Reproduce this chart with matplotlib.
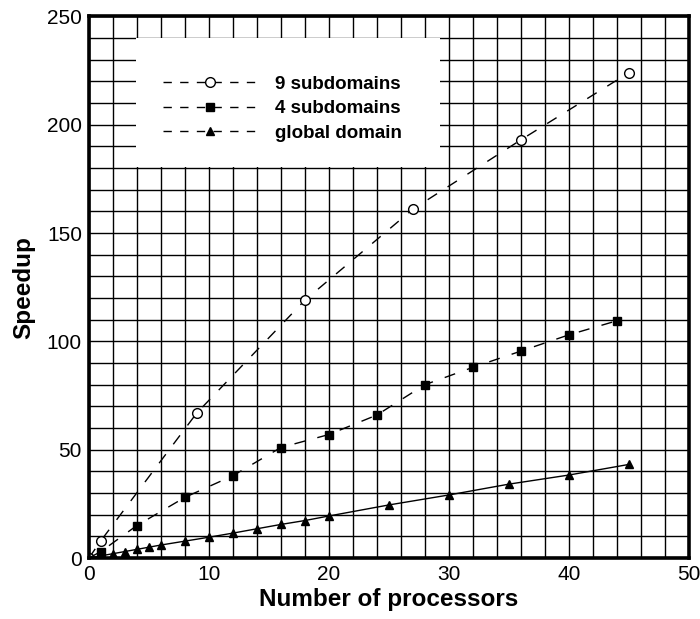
import matplotlib
matplotlib.use("Agg")
import matplotlib.pyplot as plt
from matplotlib.lines import Line2D
from matplotlib.patches import Rectangle

plt.rcParams['font.family'] = ['Liberation Sans', 'DejaVu Sans']

# Data
x9 = [0, 1, 9, 18, 27, 36, 45]
y9 = [0, 8, 67, 119, 161, 193, 224]

x4 = [0, 1, 4, 8, 12, 16, 20, 24, 28, 32, 36, 40, 44]
y4 = [0, 3, 15, 28, 38, 51, 57, 66, 80, 88, 95.5, 103, 109.5]

xg = [0, 1, 2, 3, 4, 5, 6, 8, 10, 12, 14, 16, 18, 20, 25, 30, 35, 40, 45]
yg = [0, 1, 2, 3, 4, 5, 6, 7.8, 9.6, 11.5, 13.5, 15.5, 17.3, 19.4, 24.5, 29.1, 34.1, 38.3, 43.2]

labels = ["9 subdomains", "4 subdomains", "global domain"]
xticks = [0, 10, 20, 30, 40, 50]
yticks = [0, 50, 100, 150, 200, 250]

fig = plt.figure(figsize=(7.0, 6.19), dpi=100)
ax = fig.add_axes([0.127, 0.0985, 0.857, 0.875])

ax.set_xlim(0, 50)
ax.set_ylim(0, 250)
ax.set_xticks(xticks)
ax.set_yticks(yticks)
ax.set_xticks(range(0, 51, 2), minor=True)
ax.set_yticks(range(0, 251, 10), minor=True)
ax.grid(True, which='both', color='black', linewidth=1.0, zorder=0)
ax.set_axisbelow(True)
ax.tick_params(which='both', length=0, labelsize=15, pad=5)
for s in ax.spines.values():
    s.set_linewidth(2.6)
    s.set_zorder(6)

# white legend box covering the grid
ax.add_patch(Rectangle((0.078, 0.7214), 0.507, 0.2396, transform=ax.transAxes,
                       facecolor='white', edgecolor='none', zorder=2))

dash = (8, 9)
ax.plot(x9, y9, color='black', linewidth=1.0, dashes=dash,
        marker='o', markersize=7, markerfacecolor='white', markeredgecolor='black', zorder=3)
ax.plot(x4, y4, color='black', linewidth=1.0, dashes=dash,
        marker='s', markersize=5.5, markevery=list(range(1, len(x4))),
        markerfacecolor='black', markeredgecolor='black', zorder=3)
ax.plot(xg, yg, color='black', linewidth=1.0, linestyle='-',
        marker='^', markersize=5.5, markevery=list(range(1, len(xg))),
        markerfacecolor='black', markeredgecolor='black', zorder=3)

ax.set_xlabel("Number of processors", fontsize=17.5, fontweight='bold', labelpad=3)
ax.set_ylabel("Speedup", fontsize=17.5, fontweight='bold', labelpad=8)

handles = [
    Line2D([], [], color='black', lw=1.0, dashes=(6, 6), marker='o', markersize=7,
           markerfacecolor='white'),
    Line2D([], [], color='black', lw=1.0, dashes=(6, 6), marker='s', markersize=5.5),
    Line2D([], [], color='black', lw=1.0, dashes=(6, 6), marker='^', markersize=5.5),
]
leg = ax.legend(handles, labels, loc='upper left', bbox_to_anchor=(0.123, 0.891),
                frameon=False, handlelength=5.0, handletextpad=1.0,
                borderpad=0, labelspacing=0.4, borderaxespad=0,
                prop={'weight': 'bold', 'size': 13.5})
leg.set_zorder(5)

fig.savefig("out.png", dpi=100)
